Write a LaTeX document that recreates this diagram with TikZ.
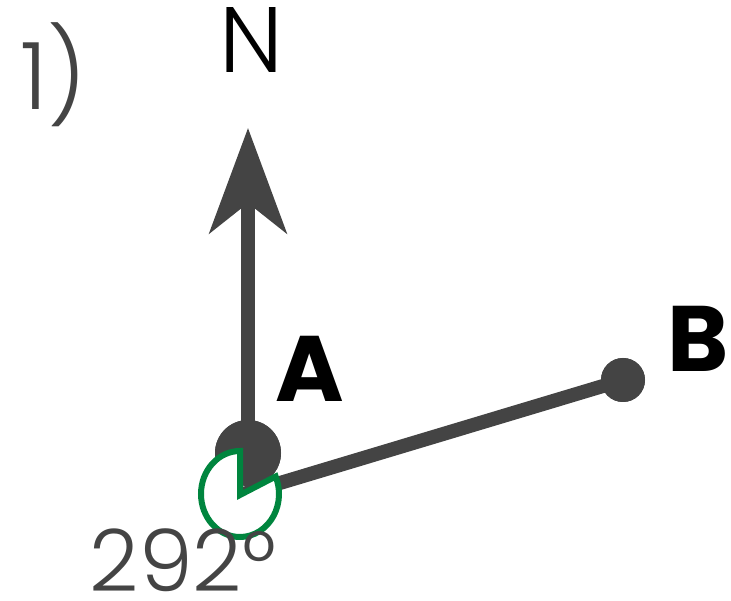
\documentclass[tikz,border=0pt]{standalone}
\usepackage{fontspec}
\setmainfont{Poppins}
\IfFontExistsTF{Poppins Light}{\newfontfamily\lightfont{Poppins Light}}{\newfontfamily\lightfont{Poppins}}
\usetikzlibrary{arrows.meta}
\definecolor{dgray}{RGB}{68,68,68}
\definecolor{pgreen}{RGB}{0,133,62}
\tikzset{
  dot/.style={circle,fill=dgray,inner sep=0pt,minimum size=#1},
  bar/.style={draw=dgray,line width=14pt},
  lbl/.style={inner sep=0pt,anchor=base,font=\fontsize{93}{100}\selectfont},
}
\begin{document}
\begin{tikzpicture}[x=1pt,y=1pt]
\useasboundingbox (0,0) rectangle (731,600);
\coordinate (Ntip) at (248,472);
\coordinate (P) at (240,105);
\node[dot=66pt] (A) at (248,147) {};
\node[dot=44pt] (B) at (623,220) {};
% north arrow
\draw[bar,-{Stealth[length=105pt,width=77pt,inset=30pt]}] (A.center) -- (Ntip);
% line to B
\draw[bar] (P) -- (B.center);
\node[dot=66pt] at (A.center) {};
% angle pie
\draw[pgreen,line width=6pt,fill=white,line join=miter]
  (P) -- ++(0,44) arc[start angle=90,end angle=384,x radius=39,y radius=43] -- cycle;
\node[dot=44pt] at (B.center) {};
% labels
\node[lbl,text=black,font=\fontsize{93}{100}\lightfont] (Nl) at (251,527) {N};
\node[lbl,text=dgray,anchor=base west,font=\fontsize{93}{100}\lightfont] (num) at (20,490) {1)};
\node[lbl,text=black] (Al) at (310,198) {\textbf{A}};
\node[lbl,text=black] (Bl) at (698,228) {\textbf{B}};
\node[lbl,text=dgray,font=\fontsize{86}{90}\lightfont] (ang) at (183,9) {292°};
\end{tikzpicture}
\end{document}
